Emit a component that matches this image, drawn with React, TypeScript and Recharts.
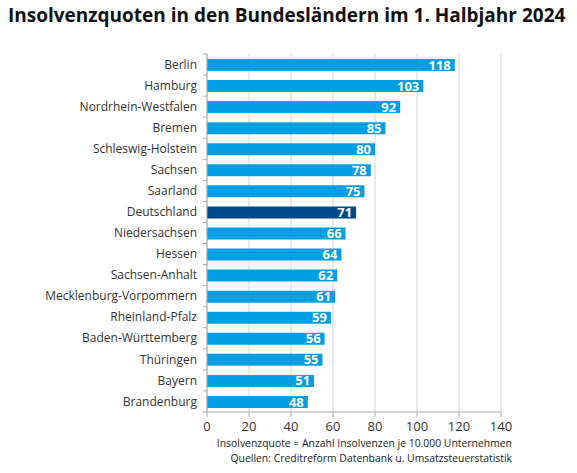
import { BarChart, Bar, XAxis, YAxis, CartesianGrid, LabelList, Cell } from "recharts";

const laender = [
  "Berlin",
  "Hamburg",
  "Nordrhein-Westfalen",
  "Bremen",
  "Schleswig-Holstein",
  "Sachsen",
  "Saarland",
  "Deutschland",
  "Niedersachsen",
  "Hessen",
  "Sachsen-Anhalt",
  "Mecklenburg-Vorpommern",
  "Rheinland-Pfalz",
  "Baden-Württemberg",
  "Thüringen",
  "Bayern",
  "Brandenburg",
];
const quoten = [118, 103, 92, 85, 80, 78, 75, 71, 66, 64, 62, 61, 59, 56, 55, 51, 48];
const xTicks = [0, 20, 40, 60, 80, 100, 120, 140];

const data = laender.map((name, i) => ({ name, quote: quoten[i] }));

const FONT = "'Open Sans', sans-serif";
const TOP = 54;
const PLOT_H = 358;
const STEP = PLOT_H / laender.length;

function LandTick(props: any) {
  const { x, y, payload, index, visibleTicksCount } = props;
  const last = index === visibleTicksCount - 1;
  return (
    <g>
      <text x={x} y={y} dy="0.35em" textAnchor="end" fontSize={12} fill="#333" fontFamily={FONT}>
        {payload.value}
      </text>
      <line x1={x + 6} x2={x + 10} y1={y - STEP / 2} y2={y - STEP / 2} stroke="#aaa" />
      {last && <line x1={x + 6} x2={x + 10} y1={y + STEP / 2} y2={y + STEP / 2} stroke="#aaa" />}
    </g>
  );
}

export default function App() {
  return (
    <div style={{ position: "absolute", left: 0, top: 0, width: 577, height: 473, background: "#fff", fontFamily: FONT }}>
      <div style={{ position: "absolute", left: 8, top: 2, fontSize: 19, fontWeight: 700, color: "#111", whiteSpace: "nowrap", lineHeight: "26px" }}>
        Insolvenzquoten in den Bundesländern im 1. Halbjahr 2024
      </div>
      <BarChart
        width={577}
        height={473}
        data={data}
        layout="vertical"
        margin={{ top: TOP, right: 76, bottom: 473 - TOP - PLOT_H - 30, left: 0 }}
      >
        <CartesianGrid horizontal={false} stroke="#d4d4d4" />
        <XAxis
          type="number"
          domain={[0, 140]}
          ticks={xTicks}
          height={30}
          tickSize={5}
          tickMargin={5}
          stroke="#aaa"
          tick={{ fontSize: 13, fill: "#333", fontFamily: FONT }}
        />
        <YAxis
          type="category"
          dataKey="name"
          width={207}
          tickSize={4}
          tickMargin={6}
          tickLine={false}
          stroke="#aaa"
          interval={0}
          tick={<LandTick />}
        />
        <Bar dataKey="quote" barSize={12} isAnimationActive={false}>
          {data.map((d) => (
            <Cell key={d.name} fill={d.name === "Deutschland" ? "#004a87" : "#009fe3"} />
          ))}
          <LabelList
            dataKey="quote"
            position="insideRight"
            offset={4}
            fill="#fff"
            fontSize={13}
            fontWeight={700}
            fontFamily={FONT}
          />
        </Bar>
      </BarChart>
      <div style={{ position: "absolute", right: 65, top: 436, fontSize: 10.4, color: "#222", textAlign: "right", lineHeight: "15px", whiteSpace: "nowrap" }}>
        <div>Insolvenzquote = Anzahl Insolvenzen je 10.000 Unternehmen</div>
        <div>Quellen: Creditreform Datenbank u. Umsatzsteuerstatistik</div>
      </div>
    </div>
  );
}
